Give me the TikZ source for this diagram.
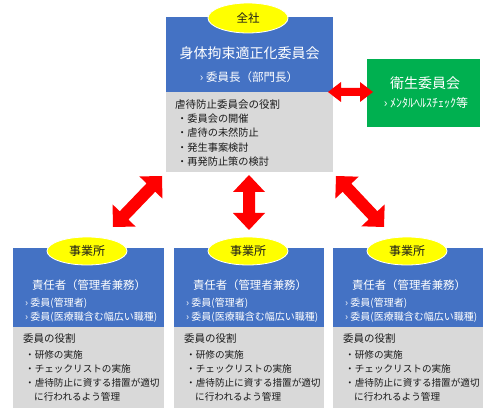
\documentclass[tikz,border=0pt]{standalone}
\usepackage{fontspec}
\setmainfont{Noto Sans CJK JP}
\usetikzlibrary{shapes.geometric,calc}
\definecolor{bblue}{HTML}{4472C4}
\definecolor{bgray}{HTML}{D9D9D9}
\definecolor{bgreen}{HTML}{00B050}
\definecolor{ayellow}{HTML}{FFFF00}
\definecolor{ared}{HTML}{FF0000}
\definecolor{dtext}{HTML}{1A1A1A}
\newcommand\fsz[1]{\fontsize{#1}{#1}\selectfont}
% #1 tip A, #2 tip B, #3 shaft half width, #4 head half width, #5 head length
\newcommand\fatarrow[5]{%
\fill[ared] (#1)
 -- ($(#1)!#5pt!(#2)!#4pt!90:(#2)$) -- ($(#1)!#5pt!(#2)!#3pt!90:(#2)$)
 -- ($(#2)!#5pt!(#1)!#3pt!-90:(#1)$) -- ($(#2)!#5pt!(#1)!#4pt!-90:(#1)$)
 -- (#2)
 -- ($(#2)!#5pt!(#1)!#4pt!90:(#1)$) -- ($(#2)!#5pt!(#1)!#3pt!90:(#1)$)
 -- ($(#1)!#5pt!(#2)!#3pt!-90:(#2)$) -- ($(#1)!#5pt!(#2)!#4pt!-90:(#2)$)
 -- cycle;}
\begin{document}
\begin{tikzpicture}[x=1pt,y=-1pt,
  panel/.style={inner sep=0pt,outer sep=0pt,draw=none},
  bluebox/.style={panel,fill=bblue},
  graybox/.style={panel,fill=bgray},
  greenbox/.style={panel,fill=bgreen},
  tag/.style={ellipse,fill=ayellow,draw=white,line width=0.8pt,inner sep=0pt,
     minimum width=80pt,text=dtext},
  wtxt/.style={text=white,inner sep=0pt,anchor=#1},
  wtxt/.default=center,
  ktxt/.style={text=dtext,inner sep=0pt,anchor=west},
]
\useasboundingbox (0,0) rectangle (499,420);

% ---------- top committee ----------
\node[bluebox,minimum width=167pt,minimum height=75pt] (topblue) at (249.5,54.5) {};
\node[graybox,minimum width=167pt,minimum height=80pt] (topgray) at (249.5,132) {};
\node[tag,minimum height=30pt] (tagtop) at (248,18) {\fsz{11.5}全社};
\node[wtxt] (toptitle) at (249.5,53) {\fsz{14}身体拘束適正化委員会};
\node[wtxt] (topsub) at (249,77) {\fsz{11.5}› 委員長（部門長）};
\node[ktxt] (tg0) at (175,105) {\fsz{10.5}虐待防止委員会の役割};
\node[ktxt] (tg1) at (177,118.5) {\fsz{10.2}・委員会の開催};
\node[ktxt] (tg2) at (177,133) {\fsz{10.2}・虐待の未然防止};
\node[ktxt] (tg3) at (177,147.5) {\fsz{10.2}・発生事案検討};
\node[ktxt] (tg4) at (177,162) {\fsz{10.2}・再発防止策の検討};

% ---------- health committee ----------
\node[greenbox,minimum width=113pt,minimum height=68pt] (green) at (423.5,93) {};
\node[wtxt] (gtitle) at (425,83) {\fsz{14}衛生委員会};
\node[wtxt] (gsub) at (426,103) {\fsz{12}› ﾒﾝﾀﾙﾍﾙｽﾁｪｯｸ等};

% ---------- site boxes ----------
\foreach \nm/\cx/\w in {L/88.5/151,M/249/150,R/408/150}{
  \node[bluebox,minimum width=\w pt,minimum height=79pt] (\nm blue) at (\cx,287.5) {};
  \node[graybox,minimum width=\w pt,minimum height=81pt] (\nm gray) at (\cx,367.5) {};
}
\foreach \nm/\cx/\lx in {L/87/13,M/248/174,R/407/333}{
  \node[tag,minimum height=28pt] (\nm tag) at (\cx,251) {\fsz{12}事業所};
  \node[wtxt] (\nm title) at (\cx+2,285) {\fsz{11.4}責任者（管理者兼務）};
  \node[wtxt=west] (\nm s1) at (\lx+12,303) {\fsz{10}› 委員(管理者)};
  \node[wtxt=west] (\nm s2) at (\lx+12,317) {\fsz{10}› 委員(医療職含む幅広い職種)};
  \node[ktxt] (\nm r0) at (\lx+10,339) {\fsz{10.5}委員の役割};
  \node[ktxt] (\nm r1) at (\lx+12,355) {\fsz{9.6}・研修の実施};
  \node[ktxt] (\nm r2) at (\lx+12,369) {\fsz{9.6}・チェックリストの実施};
  \node[ktxt] (\nm r3) at (\lx+12,383) {\fsz{9.6}・虐待防止に資する措置が適切};
  \node[ktxt] (\nm r4) at (\lx+21,397) {\fsz{9.6}に行われるよう管理};
}

% ---------- arrows ----------
\coordinate (hA) at (328,92);
\coordinate (hB) at (373,92);
\fatarrow{hA}{hB}{4}{10}{13}
\coordinate (lA) at (162,176);
\coordinate (lB) at (113,227);
\fatarrow{lA}{lB}{6}{16}{16}
\coordinate (mA) at (249,175);
\coordinate (mB) at (249,230);
\fatarrow{mA}{mB}{6}{16}{17}
\coordinate (rA) at (336,176);
\coordinate (rB) at (384,227);
\fatarrow{rA}{rB}{6}{16}{16}
\end{tikzpicture}
\end{document}
